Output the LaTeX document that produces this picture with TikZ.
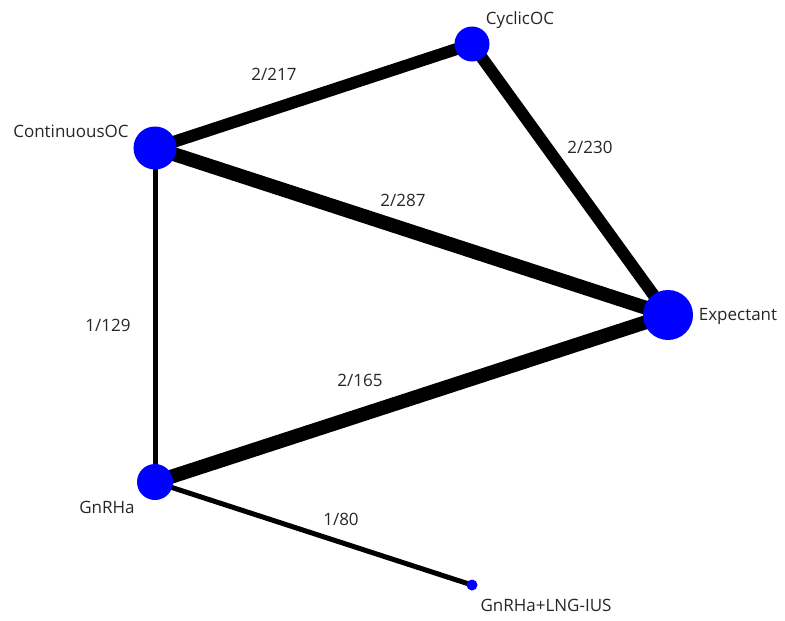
\documentclass[tikz,border=0pt]{standalone}
\usepackage{fontspec}
\setmainfont{Open Sans}
\usepackage{tikz}

\begin{document}
\begin{tikzpicture}[x=1pt,y=-1pt,
  trt/.style={circle,fill=blue,inner sep=0pt},
  lbl/.style={font=\fontsize{17}{20}\selectfont,text=black!85,inner sep=0pt},
  edge/.style={line width=#1}]
\useasboundingbox (0,0) rectangle (785,621);

% treatment positions
\coordinate (cyc) at (472,44);
\coordinate (con) at (155,148);
\coordinate (exp) at (668,315);
\coordinate (gnr) at (155,482);
\coordinate (lng) at (472,585);

% comparisons
\draw[edge=12pt] (con) -- (cyc);
\draw[edge=12pt] (cyc) -- (exp);
\draw[edge=14pt] (con) -- (exp);
\draw[edge=5pt] (con) -- (gnr);
\draw[edge=14pt] (gnr) -- (exp);
\draw[edge=5pt] (gnr) -- (lng);

% nodes
\node[trt,minimum size=35pt] (nCyc) at (cyc) {};
\node[trt,minimum size=43pt] (nCon) at (con) {};
\node[trt,minimum size=50pt] (nExp) at (exp) {};
\node[trt,minimum size=36pt] (nGnr) at (gnr) {};
\node[trt,minimum size=11pt] (nLng) at (lng) {};

\node[lbl] (tCyc) at (520,20) {CyclicOC};
\node[lbl] (tCon) at (71,131) {ContinuousOC};
\node[lbl] (tExp) at (738,316) {Expectant};
\node[lbl] (tGnr) at (107,507) {GnRHa};
\node[lbl] (tLng) at (546,605) {GnRHa+LNG-IUS};

% edge labels
\node[lbl] (e1) at (274,74) {2/217};
\node[lbl] (e2) at (590,147) {2/230};
\node[lbl] (e3) at (403,200) {2/287};
\node[lbl] (e4) at (108,325) {1/129};
\node[lbl] (e5) at (360,380) {2/165};
\node[lbl] (e6) at (341,519) {1/80};
\end{tikzpicture}
\end{document}
